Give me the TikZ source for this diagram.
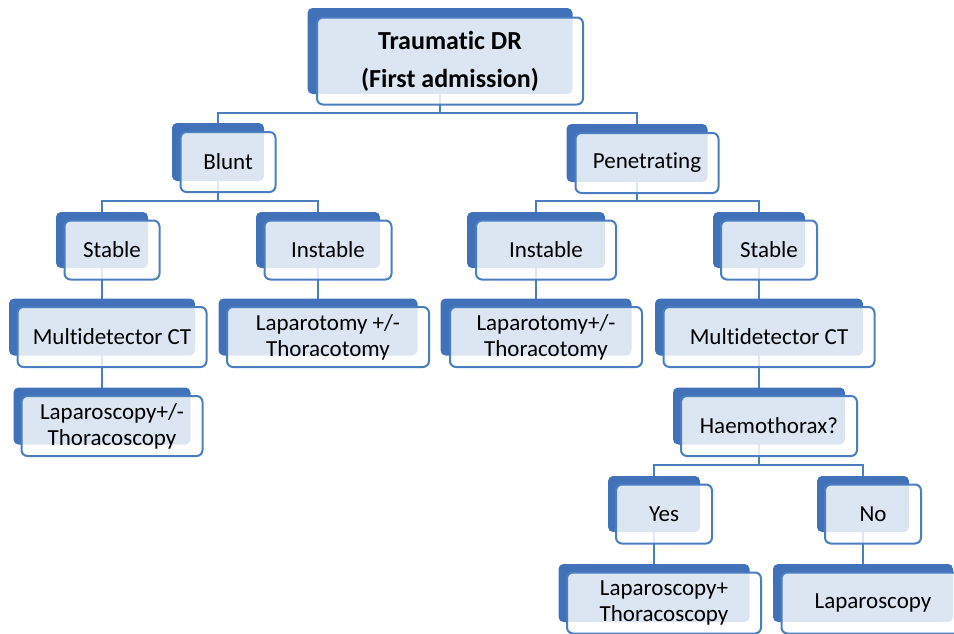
\documentclass[tikz,border=0pt]{standalone}
\usepackage{fontspec}
\setmainfont{Carlito}[Ligatures=NoCommon]
\usetikzlibrary{backgrounds}
\definecolor{dkblue}{RGB}{65,113,185}
\definecolor{lnblue}{RGB}{74,126,192}
\tikzset{
  back/.style={fill=dkblue, rounded corners=2.5pt, inner sep=0pt},
  front/.style={draw=lnblue, line width=1pt, fill=white, fill opacity=0.82, text opacity=1,
    rounded corners=3pt, align=center, inner xsep=3pt, inner ysep=1pt,
    font=\fontsize{11.5}{13}\selectfont},
  link/.style={draw=lnblue, line width=1pt},
}
\begin{document}
\begin{tikzpicture}[x=0.5pt,y=-0.5pt]
\useasboundingbox (0,0) rectangle (954,633);
% first level
\node[back, minimum width=132.5pt, minimum height=43pt] (topB) at (440,51) {};
\node[front, minimum width=133pt, minimum height=43.5pt, font=\bfseries\fontsize{13}{19}\selectfont] (top) at ([shift={(10,10)}]topB) {Traumat\kern0pt ic DR\\(First admission)};
\node[back, minimum width=46pt, minimum height=29pt] (bluntB) at (218,152) {};
\node[front, minimum width=47.5pt, minimum height=30pt] (blunt) at ([shift={(10,10)}]bluntB) {Blunt};
\node[back, minimum width=70.5pt, minimum height=29pt] (penB) at (637,153) {};
\node[front, minimum width=71.5pt, minimum height=30pt] (pen) at ([shift={(10,10)}]penB) {Penetrating};
% stable / instable
\node[back, minimum width=46pt, minimum height=28pt] (stabLB) at (102,240) {};
\node[front, minimum width=47.5pt, minimum height=29.5pt] (stabL) at ([shift={(10,10)}]stabLB) {Stable};
\node[back, minimum width=62pt, minimum height=28pt] (instLB) at (318,240) {};
\node[front, minimum width=63.5pt, minimum height=29.5pt] (instL) at ([shift={(10,10)}]instLB) {Instable};
\node[back, minimum width=69pt, minimum height=28pt] (instRB) at (536,240) {};
\node[front, minimum width=70pt, minimum height=29.5pt] (instR) at ([shift={(10,10)}]instRB) {Instable};
\node[back, minimum width=46pt, minimum height=28pt] (stabRB) at (759,240) {};
\node[front, minimum width=48pt, minimum height=29.5pt] (stabR) at ([shift={(10,10)}]stabRB) {Stable};
% procedures
\node[back, minimum width=93pt, minimum height=28.5pt] (ctLB) at (102,327) {};
\node[front, minimum width=94.5pt, minimum height=30pt] (ctL) at ([shift={(10,10)}]ctLB) {Multidetector CT};
\node[back, minimum width=99.5pt, minimum height=28.5pt] (lapLB) at (318,327) {};
\node[front, minimum width=101pt, minimum height=30pt] (lapL) at ([shift={(10,10)}]lapLB) {Laparotomy +/-\\Thoracotomy};
\node[back, minimum width=95.5pt, minimum height=28.5pt] (lapRB) at (536,327) {};
\node[front, minimum width=96pt, minimum height=30pt] (lapR) at ([shift={(10,10)}]lapRB) {Laparotomy+/-\\Thoracotomy};
\node[back, minimum width=104pt, minimum height=28.5pt] (ctRB) at (759,327) {};
\node[front, minimum width=105.5pt, minimum height=30pt] (ctR) at ([shift={(10,10)}]ctRB) {Multidetector CT};
\node[back, minimum width=88.5pt, minimum height=28.5pt] (scLB) at (102,416) {};
\node[front, minimum width=90.5pt, minimum height=30pt] (scL) at ([shift={(10,10)}]scLB) {Laparoscopy+/-\\Thoracoscopy};
\node[back, minimum width=86pt, minimum height=28.5pt] (haemB) at (759,416) {};
\node[front, minimum width=88pt, minimum height=30pt] (haem) at ([shift={(10,10)}]haemB) {Haemothorax?};
% haemothorax answers
\node[back, minimum width=46pt, minimum height=28pt] (yesB) at (654,504) {};
\node[front, minimum width=48pt, minimum height=29.5pt] (yes) at ([shift={(10,10)}]yesB) {Yes};
\node[back, minimum width=46pt, minimum height=28pt] (noB) at (863,504) {};
\node[front, minimum width=48pt, minimum height=29.5pt] (no) at ([shift={(10,10)}]noB) {No};
\node[back, minimum width=95.5pt, minimum height=29pt] (scRB) at (654,593) {};
\node[front, minimum width=97pt, minimum height=30.5pt] (scR) at ([shift={(10,10)}]scRB) {Laparoscopy+\\Thoracoscopy};
\node[back, minimum width=90pt, minimum height=29pt] (lapoB) at (863,593) {};
\node[front, minimum width=91.5pt, minimum height=30.5pt] (lapo) at ([shift={(10,10)}]lapoB) {Laparoscopy};
% connectors behind the boxes
\begin{pgfonlayer}{background}
\coordinate (bar1) at (0,113);
\coordinate (bar2) at (0,201);
\coordinate (bar3) at (0,465);
\path[link] (topB.center) -- (topB |- bar1) -| (bluntB.center);
\path[link] (topB |- bar1) -| (penB.center);
\path[link] (bluntB.center) -- (bluntB |- bar2) -| (stabLB.center);
\path[link] (bluntB |- bar2) -| (instLB.center);
\path[link] (penB.center) -- (penB |- bar2) -| (instRB.center);
\path[link] (penB |- bar2) -| (stabRB.center);
\path[link] (stabLB.center) -- (ctLB.center);
\path[link] (ctLB.center) -- (scLB.center);
\path[link] (instLB.center) -- (lapLB.center);
\path[link] (instRB.center) -- (lapRB.center);
\path[link] (stabRB.center) -- (ctRB.center);
\path[link] (ctRB.center) -- (haemB.center);
\path[link] (haemB.center) -- (haemB |- bar3) -| (yesB.center);
\path[link] (haemB |- bar3) -| (noB.center);
\path[link] (yesB.center) -- (scRB.center);
\path[link] (noB.center) -- (lapoB.center);
\end{pgfonlayer}
\end{tikzpicture}
\end{document}
